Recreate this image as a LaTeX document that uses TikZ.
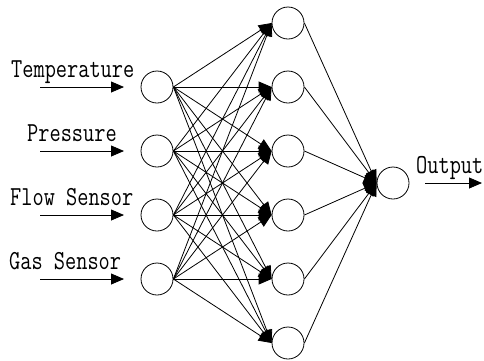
\documentclass[tikz,border=0pt]{standalone}
\usepackage{fontspec}
\usetikzlibrary{arrows.meta}
\newfontfamily\lblfont[FakeStretch=0.79]{Latin Modern Mono}
\tikzset{
  neuron/.style={circle, draw, line width=0.8pt, minimum size=32pt, inner sep=0pt},
  link/.style={line width=0.8pt, -{Triangle[length=13pt,width=11pt]}},
  lbl/.style={font=\lblfont\fontsize{27.5}{27.5}\selectfont, inner sep=0pt, anchor=base west}
}
\begin{document}
\begin{tikzpicture}[x=1pt,y=-1pt]
  \useasboundingbox (0,0) rectangle (484,360);
  % input layer
  \foreach \i/\y in {1/87,2/151,3/215,4/279}
    \node[neuron] (in\i) at (157,\y) {};
  % hidden layer
  \foreach \j/\y in {1/23,2/87,3/151,4/215,5/279,6/343}
    \node[neuron] (h\j) at (288,\y) {};
  % output neuron
  \node[neuron] (out) at (393,183) {};
  % full connections
  \foreach \i in {1,...,4}
    \foreach \j in {1,...,6}
      \draw[link] (in\i.east) -- (h\j.west);
  \foreach \j in {1,...,6}
    \draw[link] (h\j.east) -- (out.west);
  % input signals
  \foreach \i in {1,...,4} {
    \coordinate (src\i) at ([xshift=-117pt]in\i.center);
    \draw[link] (src\i) -- ([xshift=-33pt]in\i.center);
  }
  \node[lbl] (t1) at (11,77) {Temperature};
  \node[lbl] (t2) at (27,141) {Pressure};
  \node[lbl] (t3) at (10,205) {Flow Sensor};
  \node[lbl] (t4) at (9,269) {Gas Sensor};
  % output signal
  \coordinate (sink) at (482,183);
  \draw[link] ([xshift=32pt]out.center) -- (sink);
  \node[lbl] (t5) at (416,173) {Output};
\end{tikzpicture}
\end{document}
